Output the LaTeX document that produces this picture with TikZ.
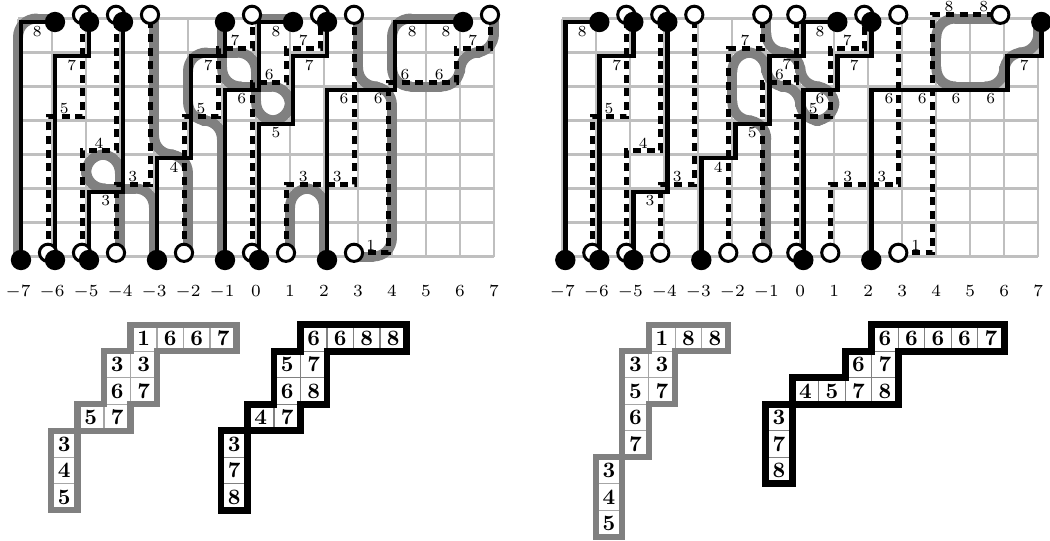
\documentclass[tikz,border=0pt]{standalone}
\usetikzlibrary{calc}
\tikzset{
  gridl/.style={draw=black!25,line width=2.2pt},
  strandpiece/.style={draw=black!50,line width=10pt,line cap=round},
  blackpath/.style={draw=black,line width=4.6pt},
  dashpath/.style={draw=black,line width=5pt,dash pattern=on 8pt off 5.6pt},
  wdot/.style={circle,draw=black,line width=3pt,fill=white,minimum size=17.2pt,inner sep=0pt},
  bdot/.style={circle,fill=black,minimum size=20.4pt,inner sep=0pt},
  small/.style={font=\scriptsize,scale=2.2,inner sep=0pt},
  tick/.style={font=\scriptsize,scale=2.43,inner sep=0pt,anchor=base},
  cellbox/.style={rectangle,draw=black!50,line width=1.3pt,fill=white,font=\bfseries,scale=2.2,minimum size=12.05pt,inner sep=0pt},
  cellboxlight/.style={cellbox,draw=black!35,line width=1.1pt},
  outlinegray/.style={draw=black!50,line width=6.2pt,miter limit=10},
  outlineblack/.style={draw=black,line width=6.6pt,miter limit=10},
  tabunits/.style={x=26.5pt,y=-26.5pt}
}
% a smooth strand through grid corners: #1 = number of points, #2 = the points
\newcommand{\strandcurve}[2]{%
  \foreach \x/\y [count=\n, remember=\ax as \bx (initially 0), remember=\ay as \by (initially 0), remember=\x as \ax (initially 0), remember=\y as \ay (initially 0)] in {#2} {%
    \ifnum\n>1
      \coordinate (sA) at (\ax,\ay);
      \coordinate (sB) at (\x,\y);
      \ifnum\n=2 \coordinate (sS) at (sA); \else \coordinate (sS) at ($(sA)!19pt!(sB)$); \fi
      \ifnum\n=#1 \coordinate (sE) at (sB); \else \coordinate (sE) at ($(sB)!19pt!(sA)$); \fi
      \draw[strandpiece] (sS) -- (sE);
    \fi
    \ifnum\n>2
      \coordinate (sP) at (\bx,\by);
      \draw[strandpiece] ($(sA)!19pt!(sP)$) .. controls ($(sA)!8pt!(sP)$) and ($(sA)!8pt!(sB)$) .. ($(sA)!19pt!(sB)$);
    \fi
  }%
}
\begin{document}
\begin{tikzpicture}[x=1pt,y=-1pt]
\useasboundingbox (0,0) rectangle (1050,541);
% ---------- left diagram ----------
\begin{scope}[shift={(18pt,-256.5pt)},x=34pt,y=34pt]
  \draw[gridl] (0,0) grid[step=1] (14,7);
  \strandcurve{3}{0/0,0/7,1/7}
  \strandcurve{6}{4/0,4/2,2/2,2/3,3/3,3/0}
  \strandcurve{10}{6/7,6/5,8/5,8/4,7/4,7/6,5/6,5/4,6/4,6/0}
  \strandcurve{4}{9/0,9/2,8/2,8/0}
  \strandcurve{5}{10/7,10/5,11/5,11/0,10/0}
  \strandcurve{7}{13/7,11/7,11/5,13/5,13/6,14/6,14/7}
  \strandcurve{4}{4/7,4/3,5/3,5/0}
  \strandcurve{2}{7/7,8/7}
\end{scope}
\begin{scope}[shift={(14pt,-252.8pt)},x=34pt,y=34pt]
  \foreach \k in {1,2,3,5,7,8,10} \coordinate (Lwb\k) at (\k,0);
  \foreach \k in {2,3,4,7,9,10,14} \coordinate (Lwt\k) at (\k,7);
  \draw[dashpath] (Lwb1) -- (1,4) -- (2,4) -- (Lwt2);
  \draw[dashpath] (Lwb2) -- (2,3) -- (3,3) -- (Lwt3);
  \draw[dashpath] (Lwb3) -- (3,2) -- (4,2) -- (Lwt4);
  \draw[dashpath] (Lwb5) -- (5,4) -- (6,4) -- (6,6) -- (7,6) -- (Lwt7);
  \draw[dashpath] (Lwb7) -- (7,5) -- (8,5) -- (8,6) -- (9,6) -- (Lwt9);
  \draw[dashpath] (Lwb8) -- (8,2) -- (10,2) -- (Lwt10);
  \draw[dashpath] (Lwb10) -- (11,0) -- (11,5) -- (13,5) -- (13,6) -- (14,6) -- (Lwt14);
\end{scope}
\begin{scope}[shift={(21pt,-260pt)},x=34pt,y=34pt]
  \foreach \k in {0,1,2,4,6,7,9} \coordinate (Lbb\k) at (\k,0);
  \foreach \k in {1,2,3,6,8,9,13} \coordinate (Lbt\k) at (\k,7);
  \draw[blackpath] (Lbb0) -- (0,7) -- (Lbt1);
  \draw[blackpath] (Lbb1) -- (1,6) -- (2,6) -- (Lbt2);
  \draw[blackpath] (Lbb2) -- (2,2) -- (3,2) -- (Lbt3);
  \draw[blackpath] (Lbb4) -- (4,3) -- (5,3) -- (5,6) -- (6,6) -- (Lbt6);
  \draw[blackpath] (Lbb6) -- (6,5) -- (7,5) -- (7,7) -- (Lbt8);
  \draw[blackpath] (Lbb7) -- (7,4) -- (8,4) -- (8,6) -- (9,6) -- (Lbt9);
  \draw[blackpath] (Lbb9) -- (9,5) -- (11,5) -- (11,7) -- (Lbt13);
\end{scope}
\foreach \k in {1,2,3,5,7,8,10} \node[wdot] (LWB\k) at (Lwb\k) {};
\foreach \k in {2,3,4,7,9,10,14} \node[wdot] (LWT\k) at (Lwt\k) {};
\foreach \k in {0,1,2,4,6,7,9} \node[bdot] (LBB\k) at (Lbb\k) {};
\foreach \k in {1,2,3,6,8,9,13} \node[bdot] (LBT\k) at (Lbt\k) {};
\foreach \x/\y/\t [count=\n] in {37.3/31.7/8,71.7/65/7,64.3/109/5,99/143.3/4,235/40.7/7,208.3/65/7,201/109/5,241.7/99/6,
  276/31.7/8,303.3/40.7/7,309.3/65/7,269.3/75/6,276/132.7/5,344/99/6,378.3/99/6,405/75/6,439.3/75/6,412.3/31.7/8,446/31.7/8,472.7/40.7/7,
  132.7/176.7/3,105.7/201/3,174/167.3/4,303.3/176.7/3,337.3/176.7/3,370.7/245/1}
  \node[small] (Ll\n) at (\x,\y) {\t};
\foreach \t [count=\i from 0] in {-7,-6,-5,-4,-3,-2,-1,0,1,2,3,4,5,6,7}
  \node[tick] (Lt\i) at ({18+34*\i},296) {$\t$};
% ---------- right diagram ----------
\begin{scope}[shift={(562.3pt,-256.5pt)},x=34pt,y=34pt]
  \draw[gridl] (0,0) grid[step=1] (14,7);
  \strandcurve{14}{6/7,6/6,7/6,7/5,8/5,8/4,7/4,7/5,6/5,6/6,5/6,5/4,6/4,6/0}
  \strandcurve{7}{13/7,11/7,11/5,13/5,13/6,14/6,14/7}
\end{scope}
\begin{scope}[shift={(558.3pt,-252.8pt)},x=34pt,y=34pt]
  \foreach \k in {1,2,3,5,6,7,8,10} \coordinate (Rwb\k) at (\k,0);
  \foreach \k in {2,3,4,6,7,9,10,13} \coordinate (Rwt\k) at (\k,7);
  \draw[dashpath] (Rwb1) -- (1,4) -- (2,4) -- (Rwt2);
  \draw[dashpath] (Rwb2) -- (2,3) -- (3,3) -- (Rwt3);
  \draw[dashpath] (Rwb3) -- (3,2) -- (4,2) -- (Rwt4);
  \draw[dashpath] (Rwb5) -- (5,6) -- (6,6) -- (Rwt6);
  \draw[dashpath] (Rwb6) -- (6,5) -- (7,5) -- (Rwt7);
  \draw[dashpath] (Rwb7) -- (7,4) -- (8,4) -- (8,6) -- (9,6) -- (Rwt9);
  \draw[dashpath] (Rwb8) -- (8,2) -- (10,2) -- (Rwt10);
  \draw[dashpath] (Rwb10) -- (11,0) -- (11,7) -- (Rwt13);
\end{scope}
\begin{scope}[shift={(565.3pt,-260pt)},x=34pt,y=34pt]
  \foreach \k in {0,1,2,4,7,9} \coordinate (Rbb\k) at (\k,0);
  \foreach \k in {1,2,3,8,9,14} \coordinate (Rbt\k) at (\k,7);
  \draw[blackpath] (Rbb0) -- (0,7) -- (Rbt1);
  \draw[blackpath] (Rbb1) -- (1,6) -- (2,6) -- (Rbt2);
  \draw[blackpath] (Rbb2) -- (2,2) -- (3,2) -- (Rbt3);
  \draw[blackpath] (Rbb4) -- (4,3) -- (5,3) -- (5,4) -- (6,4) -- (6,6) -- (7,6) -- (7,7) -- (Rbt8);
  \draw[blackpath] (Rbb7) -- (7,5) -- (8,5) -- (8,6) -- (9,6) -- (Rbt9);
  \draw[blackpath] (Rbb9) -- (9,5) -- (13,5) -- (13,6) -- (14,6) -- (Rbt14);
\end{scope}
\foreach \k in {1,2,3,5,6,7,8,10} \node[wdot] (RWB\k) at (Rwb\k) {};
\foreach \k in {2,3,4,6,7,9,10,13} \node[wdot] (RWT\k) at (Rwt\k) {};
\foreach \k in {0,1,2,4,7,9} \node[bdot] (RBB\k) at (Rbb\k) {};
\foreach \k in {1,2,3,8,9,14} \node[bdot] (RBT\k) at (Rbt\k) {};
\foreach \x/\y/\t [count=\n] in {582.3/31.7/8,616.7/65/7,609/109/5,643.3/143.3/4,745/40.7/7,752.3/132.7/5,786.7/64.5/7,779.5/75/6,
  820/31.7/8,847.3/40.7/7,854.3/65/7,820/99/6,813.3/108.3/5,889/99/6,922.3/99/6,956/99/6,990.7/99/6,949/6.7/8,983.7/6.7/8,1024.3/65/7,
  677.3/176.7/3,650/201/3,718.3/167.3/4,847.7/176.7/3,881.7/176.7/3,915.7/245/1}
  \node[small] (Rl\n) at (\x,\y) {\t};
\foreach \t [count=\i from 0] in {-7,-6,-5,-4,-3,-2,-1,0,1,2,3,4,5,6,7}
  \node[tick] (Rt\i) at ({562.3+34*\i},296) {$\t$};
% ---------- tableaux ----------
\begin{scope}[shift={(51.05pt,-324.75pt)},tabunits]
  \foreach \c/\r/\t [count=\n] in {3/0/1,4/0/6,5/0/6,6/0/7,2/1/3,3/1/3,2/2/6,3/2/7,1/3/5,2/3/7,0/4/3,0/5/4,0/6/5}
    \node[cellboxlight] (TA\n) at (\c+.5,\r+.5) {\t};
  \draw[outlinegray] (3,0) -- (7,0) -- (7,1) -- (4,1) -- (4,3) -- (3,3) -- (3,4) -- (1,4) -- (1,7) -- (0,7) -- (0,4) -- (1,4) -- (1,3) -- (2,3) -- (2,1) -- (3,1) -- cycle;
\end{scope}
\begin{scope}[shift={(220.95pt,-324.75pt)},tabunits]
  \foreach \c/\r/\t [count=\n] in {3/0/6,4/0/6,5/0/8,6/0/8,2/1/5,3/1/7,2/2/6,3/2/8,1/3/4,2/3/7,0/4/3,0/5/7,0/6/8}
    \node[cellbox] (TB\n) at (\c+.5,\r+.5) {\t};
  \draw[outlineblack] (3,0) -- (7,0) -- (7,1) -- (4,1) -- (4,3) -- (3,3) -- (3,4) -- (1,4) -- (1,7) -- (0,7) -- (0,4) -- (1,4) -- (1,3) -- (2,3) -- (2,1) -- (3,1) -- cycle;
\end{scope}
\begin{scope}[shift={(595.75pt,-324.75pt)},tabunits]
  \foreach \c/\r/\t [count=\n] in {2/0/1,3/0/8,4/0/8,1/1/3,2/1/3,1/2/5,2/2/7,1/3/6,1/4/7,0/5/3,0/6/4,0/7/5}
    \node[cellboxlight] (TC\n) at (\c+.5,\r+.5) {\t};
  \draw[outlinegray] (2,0) -- (5,0) -- (5,1) -- (3,1) -- (3,3) -- (2,3) -- (2,5) -- (1,5) -- (1,8) -- (0,8) -- (0,5) -- (1,5) -- (1,1) -- (2,1) -- cycle;
\end{scope}
\begin{scope}[shift={(765.75pt,-324.75pt)},tabunits]
  \foreach \c/\r/\t [count=\n] in {4/0/6,5/0/6,6/0/6,7/0/6,8/0/7,3/1/6,4/1/7,1/2/4,2/2/5,3/2/7,4/2/8,0/3/3,0/4/7,0/5/8}
    \node[cellbox] (TD\n) at (\c+.5,\r+.5) {\t};
  \draw[outlineblack] (4,0) -- (9,0) -- (9,1) -- (5,1) -- (5,3) -- (1,3) -- (1,6) -- (0,6) -- (0,3) -- (1,3) -- (1,2) -- (3,2) -- (3,1) -- (4,1) -- cycle;
\end{scope}
\end{tikzpicture}
\end{document}
